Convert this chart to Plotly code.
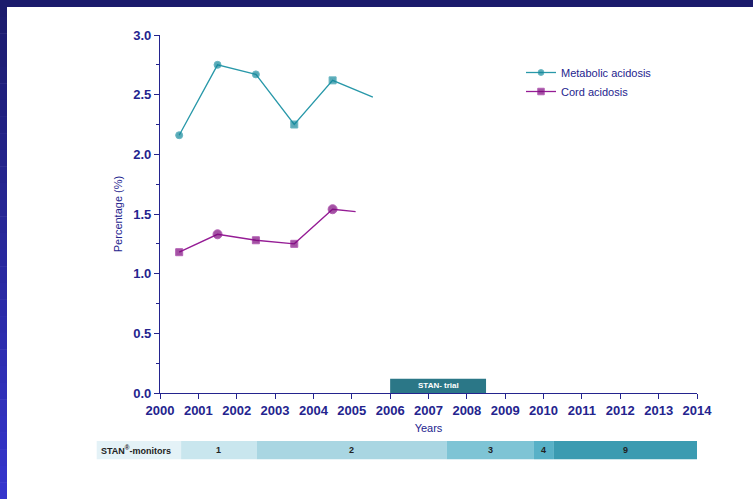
import plotly.graph_objects as go

# Yearly acidosis rates (%), points placed mid-year
metabolic_years = [2000.5, 2001.5, 2002.5, 2003.5, 2004.5, 2005.55]
metabolic_pct = [2.16, 2.75, 2.67, 2.25, 2.62, 2.48]
metabolic_symbols = ["circle", "circle", "circle", "square", "square", "circle"]

cord_years = [2000.5, 2001.5, 2002.5, 2003.5, 2004.5, 2005.1]
cord_pct = [1.18, 1.33, 1.28, 1.25, 1.54, 1.52]
cord_symbols = ["square", "circle", "square", "square", "circle", "square"]

# STAN trial period
trial_label = "STAN- trial"
trial_start, trial_end, trial_height = 2006.0, 2008.5, 0.12

# Number of STAN monitors in use over time
monitor_label = "STAN<sup>®</sup>-monitors"
monitor_label_start = 1998.35
monitor_edges = [2000.55, 2002.52, 2007.47, 2009.75, 2010.27, 2014.0]
monitor_counts = ["1", "2", "3", "4", "9"]
monitor_colors = ["#c9e6ee", "#a9d6e2", "#7ec4d5", "#58b1c7", "#3b9bb1"]

X_MIN, X_MAX = 2000, 2014
NAVY = "#24248e"
W, H = 753, 499
L, R, T, B = 160, 56, 35, 106
PW, PH = W - L - R, H - T - B


def xp(px):
    return (px - L) / PW


def yp(py):
    return (H - B - py) / PH


def year_to_paper(yr):
    # the strip extends left of the axis, so it is placed in paper units
    return (yr - X_MIN) / (X_MAX - X_MIN)


fig = go.Figure()

fig.add_trace(go.Scatter(
    x=metabolic_years, y=metabolic_pct, name="Metabolic acidosis",
    mode="lines+markers",
    line=dict(color="#2898a9", width=1.3),
    marker=dict(color="#13879a", size=[7, 7, 7, 7, 7, 0], symbol=metabolic_symbols),
))
fig.add_trace(go.Scatter(
    x=cord_years, y=cord_pct, name="Cord acidosis",
    mode="lines+markers",
    line=dict(color="#951c95", width=1.3),
    marker=dict(color="#7d0a7d", size=[7, 9, 7, 7, 9, 0], symbol=cord_symbols),
))

shapes = []

# frame: dark top band and a vertical gradient band on the left
shapes.append(dict(type="rect", xref="paper", yref="paper",
                   x0=xp(0), x1=xp(W), y0=yp(0), y1=yp(7),
                   fillcolor="#1b1b6c", line_width=0, layer="above"))
n = 30
c0, c1 = (0x1b, 0x1b, 0x6c), (0x35, 0x35, 0xcc)
for i in range(n):
    t = i / (n - 1)
    col = "rgb(%d,%d,%d)" % tuple(round(a + (b - a) * t) for a, b in zip(c0, c1))
    py0 = i * H / n
    py1 = (i + 1) * H / n + 0.5
    shapes.append(dict(type="rect", xref="paper", yref="paper",
                       x0=xp(0), x1=xp(7), y0=yp(py0), y1=yp(py1),
                       fillcolor=col, line_width=0, layer="above"))

# STAN trial block on the time axis
shapes.append(dict(type="rect", xref="x", yref="y",
                   x0=trial_start, x1=trial_end, y0=0, y1=trial_height,
                   fillcolor="#2b7787", line_width=0, layer="below"))

# monitor count strip below the axis
strip_top, strip_bot = yp(441), yp(459.3)
strip_mid = (strip_top + strip_bot) / 2
cell_font = dict(size=9, color="#222222", family="Liberation Sans, Arial")
shapes.append(dict(type="rect", xref="paper", yref="paper",
                   x0=year_to_paper(monitor_label_start), x1=year_to_paper(monitor_edges[0]),
                   y0=strip_bot, y1=strip_top,
                   fillcolor="#e4f2f7", line_width=0))
annotations = [dict(x=year_to_paper(monitor_label_start) + 0.005, y=strip_mid,
                    xref="paper", yref="paper", xanchor="left", yanchor="middle",
                    text="<b>" + monitor_label + "</b>",
                    showarrow=False, font=cell_font)]
for i, cnt in enumerate(monitor_counts):
    x0, x1 = year_to_paper(monitor_edges[i]), year_to_paper(monitor_edges[i + 1])
    shapes.append(dict(type="rect", xref="paper", yref="paper",
                       x0=x0, x1=x1, y0=strip_bot, y1=strip_top,
                       fillcolor=monitor_colors[i], line_width=0))
    annotations.append(dict(x=(x0 + x1) / 2, y=strip_mid, xref="paper", yref="paper",
                            xanchor="center", yanchor="middle",
                            text="<b>" + cnt + "</b>", showarrow=False, font=cell_font))

annotations.append(dict(x=(trial_start + trial_end) / 2, y=trial_height / 2,
                        xref="x", yref="y", xanchor="center", yanchor="middle",
                        text="<b>" + trial_label + "</b>", showarrow=False,
                        font=dict(size=8, color="white", family="Liberation Sans, Arial")))

fig.update_layout(
    width=W, height=H,
    margin=dict(l=L, r=R, t=T, b=B, pad=0),
    paper_bgcolor="white", plot_bgcolor="white",
    font=dict(family="Liberation Sans, Arial", color=NAVY),
    shapes=shapes, annotations=annotations,
    showlegend=True,
    legend=dict(x=xp(521), y=yp(58), xanchor="left", yanchor="top",
                bgcolor="rgba(0,0,0,0)", font=dict(size=11, color=NAVY),
                tracegroupgap=0, itemwidth=30),
    xaxis=dict(range=[X_MIN, X_MAX], dtick=1, tick0=X_MIN, showgrid=False, zeroline=False,
               showline=True, linecolor=NAVY, linewidth=1.3,
               ticks="outside", ticklen=5, tickwidth=1.3, tickcolor=NAVY,
               tickfont=dict(size=13, color=NAVY, family="Liberation Sans, Arial", weight="bold"),
               title=dict(text="Years", font=dict(size=11, color=NAVY), standoff=7)),
    yaxis=dict(range=[0, 3], dtick=0.5, tickformat=".1f", showgrid=False, zeroline=False,
               showline=True, linecolor=NAVY, linewidth=1.3,
               ticks="outside", ticklen=5, tickwidth=1.3, tickcolor=NAVY,
               minor=dict(dtick=0.25, ticks="outside", ticklen=3, tickcolor=NAVY, tickwidth=1.1),
               tickfont=dict(size=13, color=NAVY, family="Liberation Sans, Arial", weight="bold"),
               title=dict(text="Percentage (%)", font=dict(size=11, color=NAVY), standoff=8)),
)

fig.write_html("out.html")
